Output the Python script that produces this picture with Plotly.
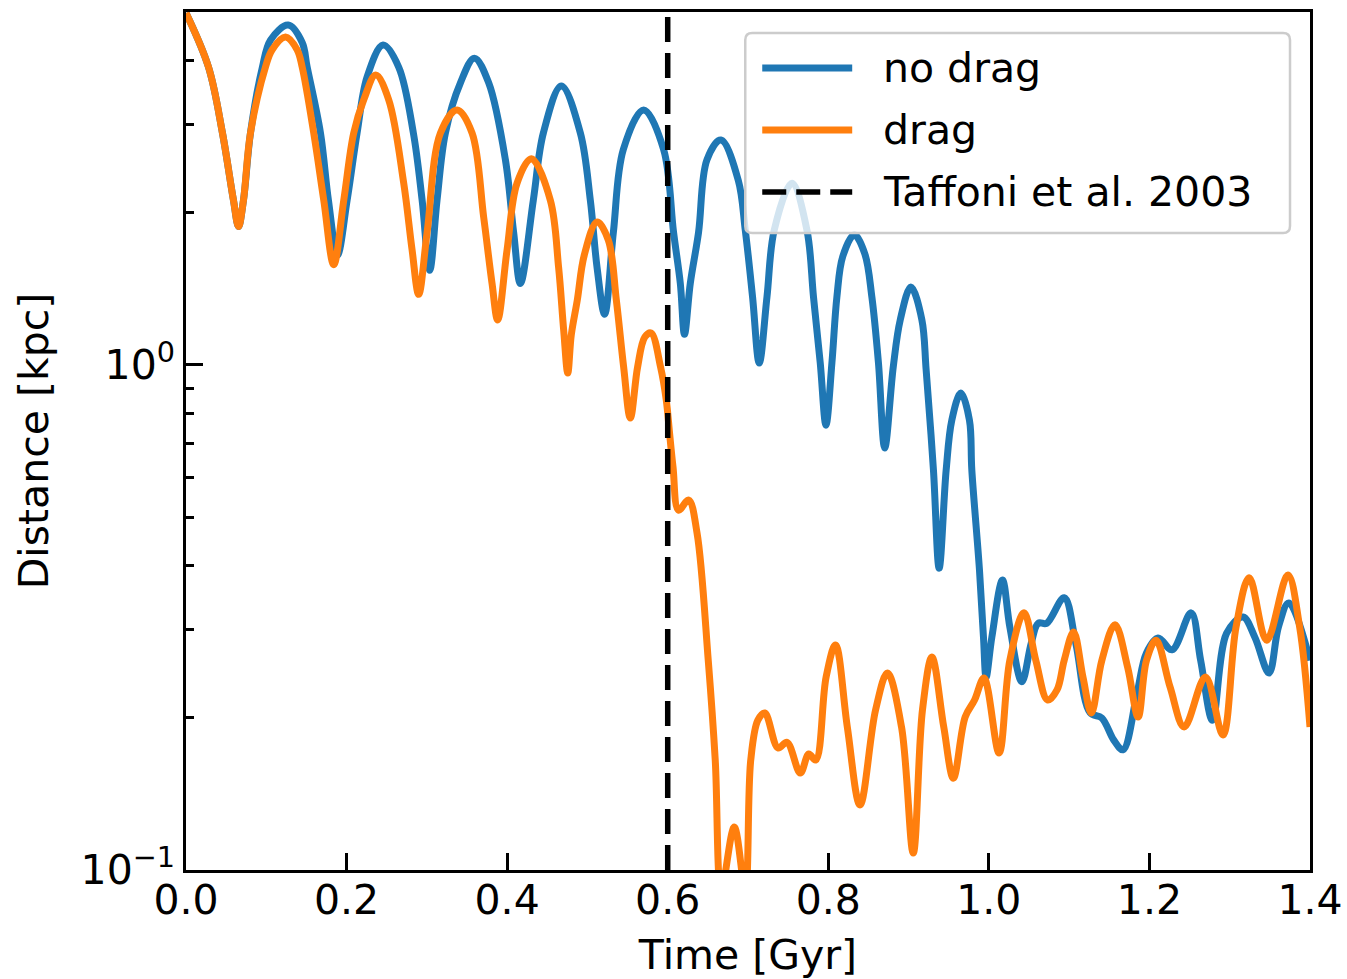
import math
import plotly.graph_objects as go

# Orbital decay of the satellite: separation vs. time, with and without drag
time_nodrag = [0.0, 0.028, 0.0454, 0.0591, 0.0654, 0.0716, 0.0803, 0.0952, 0.1052, 0.1272,
               0.1447, 0.1509, 0.1675, 0.1774, 0.1886, 0.2007, 0.2131, 0.2256, 0.2455, 0.2649,
               0.2832, 0.2941, 0.3035, 0.3127, 0.3231, 0.3418, 0.3592, 0.3770, 0.3978, 0.4081,
               0.4165, 0.4326, 0.4451, 0.4675, 0.4912, 0.5036, 0.5120, 0.5214, 0.5323, 0.5447,
               0.5700, 0.5949, 0.6073, 0.6157, 0.6209, 0.6281, 0.6384, 0.6489, 0.6663, 0.6879,
               0.6966, 0.7057, 0.7140, 0.7236, 0.7327, 0.7547, 0.7734, 0.7816, 0.7900, 0.7971,
               0.8045, 0.8107, 0.8180, 0.8323, 0.8455, 0.8543, 0.8625, 0.8703, 0.8809, 0.8896,
               0.9029, 0.9166, 0.9219, 0.9310, 0.9381, 0.9468, 0.9539, 0.9651, 0.9758, 0.9788,
               0.9883, 0.9933, 0.9966, 1.0037, 1.0169, 1.0261, 1.0411, 1.0527, 1.0614, 1.0720,
               1.0938, 1.1083, 1.1260, 1.1407, 1.1554, 1.1671, 1.1846, 1.1963, 1.2108, 1.2282,
               1.2519, 1.2638, 1.2785, 1.2962, 1.3166, 1.3313, 1.3490, 1.3607, 1.3736, 1.4]
dist_nodrag = [4.98, 3.89, 2.88, 2.12, 1.88, 2.12, 2.88, 3.89, 4.40, 4.71,
               4.35, 3.89, 2.88, 2.12, 1.65, 2.12, 2.88, 3.72, 4.30, 3.89,
               2.88, 2.12, 1.54, 2.12, 2.88, 3.62, 4.05, 3.62, 2.55, 1.83,
               1.45, 2.12, 2.88, 3.57, 2.88, 2.12, 1.56, 1.26, 1.83, 2.67,
               3.20, 2.67, 1.83, 1.45, 1.15, 1.45, 1.83, 2.55, 2.79, 2.32,
               1.85, 1.363, 1.009, 1.363, 1.85, 2.29, 1.85, 1.363, 1.009, 0.760,
               1.009, 1.363, 1.64, 1.81, 1.66, 1.363, 1.009, 0.685, 0.991, 1.228,
               1.427, 1.228, 0.977, 0.619, 0.396, 0.619, 0.778, 0.880, 0.778, 0.619,
               0.393, 0.289, 0.241, 0.289, 0.375, 0.303, 0.236, 0.281, 0.308, 0.308,
               0.346, 0.281, 0.205, 0.200, 0.181, 0.173, 0.224, 0.269, 0.288, 0.273,
               0.323, 0.260, 0.198, 0.2945, 0.317, 0.289, 0.2455, 0.303, 0.338, 0.260]

time_drag = [0.0, 0.028, 0.0454, 0.0591, 0.0654, 0.0716, 0.0803, 0.0990, 0.1073, 0.1239,
             0.1384, 0.1447, 0.1591, 0.1716, 0.1840, 0.1965, 0.2089, 0.2214, 0.2363, 0.2525,
             0.2712, 0.2816, 0.2898, 0.3003, 0.3169, 0.3377, 0.3563, 0.3708, 0.3812, 0.3882,
             0.3999, 0.4123, 0.4302, 0.4538, 0.4641, 0.4704, 0.4755, 0.4799, 0.4874, 0.4961,
             0.5120, 0.5260, 0.5360, 0.5451, 0.5534, 0.5625, 0.5715, 0.5793, 0.5911, 0.5982,
             0.6023, 0.6066, 0.6135, 0.6260, 0.6365, 0.6505, 0.6592, 0.6667, 0.6829, 0.6966,
             0.7034, 0.7123, 0.7210, 0.7374, 0.7486, 0.7651, 0.7757, 0.7844, 0.7973, 0.8090,
             0.8237, 0.8395, 0.8589, 0.8736, 0.8912, 0.9058, 0.9173, 0.9291, 0.9438, 0.9558,
             0.9705, 0.9822, 0.9939, 1.0127, 1.0261, 1.0438, 1.0585, 1.0732, 1.0849, 1.0938,
             1.1055, 1.1172, 1.1277, 1.1407, 1.1571, 1.1729, 1.1859, 1.1963, 1.2082, 1.2257,
             1.2433, 1.2698, 1.2915, 1.3079, 1.3243, 1.3460, 1.3724, 1.3871, 1.4]
dist_drag = [4.98, 3.89, 2.88, 2.12, 1.88, 2.12, 2.88, 3.89, 4.21, 4.46,
             4.21, 3.89, 2.88, 2.12, 1.58, 2.12, 2.88, 3.35, 3.75, 3.35,
             2.29, 1.69, 1.38, 1.83, 2.88, 3.20, 2.88, 1.96, 1.45, 1.228,
             1.69, 2.29, 2.56, 2.12, 1.56, 1.173, 0.964, 1.147, 1.345, 1.651,
             1.92, 1.768, 1.345, 0.991, 0.785, 0.991, 1.136, 1.157, 0.991, 0.852,
             0.733, 0.628, 0.516, 0.540, 0.465, 0.260, 0.165, 0.091, 0.1216, 0.091,
             0.165, 0.198, 0.2046, 0.1744, 0.179, 0.1556, 0.1697, 0.1651, 0.241, 0.279,
             0.192, 0.1345, 0.2074, 0.2455, 0.192, 0.108, 0.2074, 0.264, 0.192, 0.152,
             0.2009, 0.217, 0.240, 0.1705, 0.260, 0.323, 0.260, 0.217, 0.2273, 0.260,
             0.296, 0.241, 0.2046, 0.260, 0.306, 0.252, 0.2009, 0.260, 0.285, 0.2304,
             0.192, 0.241, 0.185, 0.303, 0.379, 0.285, 0.384, 0.303, 0.192]

taffoni_time = 0.6          # sinking time quoted by Taffoni et al. (2003)
x_limits = [0.0, 1.4]
y_limits = [0.1, 5.0]
x_ticks = [0.0, 0.2, 0.4, 0.6, 0.8, 1.0, 1.2, 1.4]
y_ticks = [0.1, 1.0]
y_tick_text = ["10<sup>\u22121</sup>", "10<sup>0</sup>"]
y_minor = [0.2, 0.3, 0.4, 0.5, 0.6, 0.7, 0.8, 0.9, 2, 3, 4, 5]

BLUE = "#1f77b4"
ORANGE = "#ff7f0e"
FONT = "DejaVu Sans"
FS = 41
LW = 7
DASH = "25px,11px"

fig = go.Figure()
fig.add_trace(go.Scatter(x=time_nodrag, y=dist_nodrag, mode="lines", name="no drag",
                         line=dict(color=BLUE, width=LW, shape="spline", smoothing=1.0),
                         showlegend=False))
fig.add_trace(go.Scatter(x=time_drag, y=dist_drag, mode="lines", name="drag",
                         line=dict(color=ORANGE, width=LW, shape="spline", smoothing=1.0),
                         showlegend=False))
fig.add_trace(go.Scatter(x=[taffoni_time, taffoni_time], y=y_limits, mode="lines",
                         name="Taffoni et al. 2003",
                         line=dict(color="black", width=5.5, dash=DASH), showlegend=False))

# Plot-area geometry in pixels, used to place the legend box in paper units
W, H = 1347, 979
ML, MR, MT, MB = 185.5, 37, 12, 109
pw, ph = W - ML - MR, H - MT - MB


def px(xp):
    return (xp - ML) / pw


def py(yp):
    return (H - MB - yp) / ph


# Legend frame (rounded, semi-transparent)
bx0, bx1, by0, by1 = px(745), px(1290), py(233), py(33)
rx, ry = 7 / pw, 7 / ph
path = (f"M {bx0+rx},{by1} L {bx1-rx},{by1} Q {bx1},{by1} {bx1},{by1-ry} "
        f"L {bx1},{by0+ry} Q {bx1},{by0} {bx1-rx},{by0} L {bx0+rx},{by0} "
        f"Q {bx0},{by0} {bx0},{by0+ry} L {bx0},{by1-ry} Q {bx0},{by1} {bx0+rx},{by1} Z")
fig.add_shape(type="path", path=path, xref="paper", yref="paper",
              fillcolor="rgba(255,255,255,0.8)", line=dict(color="#cccccc", width=2.5),
              layer="above")

legend_items = [("no drag", BLUE, "solid", 68), ("drag", ORANGE, "solid", 130),
                ("Taffoni et al. 2003", "black", "24px,10px", 192)]
for label, color, dash, ypix in legend_items:
    fig.add_shape(type="line", xref="paper", yref="paper", x0=px(762), x1=px(852),
                  y0=py(ypix), y1=py(ypix), layer="above",
                  line=dict(color=color, width=LW if dash == "solid" else 5.5, dash=dash))
    fig.add_annotation(x=px(881), y=py(ypix), xref="paper", yref="paper", text=label,
                       showarrow=False, xanchor="left", yanchor="middle",
                       font=dict(family=FONT, size=FS, color="black"))

axis_common = dict(showline=True, linecolor="black", linewidth=2.5, mirror=True,
                   ticks="inside", ticklen=17, tickwidth=2.5, tickcolor="black",
                   showgrid=False, zeroline=False,
                   tickfont=dict(family=FONT, size=FS, color="black"))

fig.update_xaxes(range=x_limits, tickmode="array", tickvals=x_ticks,
                 ticktext=[f"{v:.1f}" for v in x_ticks], ticklabelstandoff=-8,
                 title=dict(text="Time [Gyr]", font=dict(family=FONT, size=FS, color="black"),
                            standoff=19),
                 **axis_common)
fig.update_yaxes(type="log", range=[math.log10(y_limits[0]), math.log10(y_limits[1])],
                 tickmode="array", tickvals=y_ticks, ticktext=y_tick_text,
                 minor=dict(tickmode="array", tickvals=y_minor, ticks="inside", ticklen=8,
                            tickwidth=2.5, tickcolor="black", showgrid=False),
                 title=dict(text="Distance [kpc]",
                            font=dict(family=FONT, size=FS, color="black"), standoff=20),
                 **axis_common)

fig.update_layout(width=W, height=H, plot_bgcolor="white", paper_bgcolor="white",
                  margin=dict(l=ML, r=MR, t=MT, b=MB, autoexpand=False),
                  font=dict(family=FONT, size=FS, color="black"), showlegend=False)

fig.write_html("out.html")
